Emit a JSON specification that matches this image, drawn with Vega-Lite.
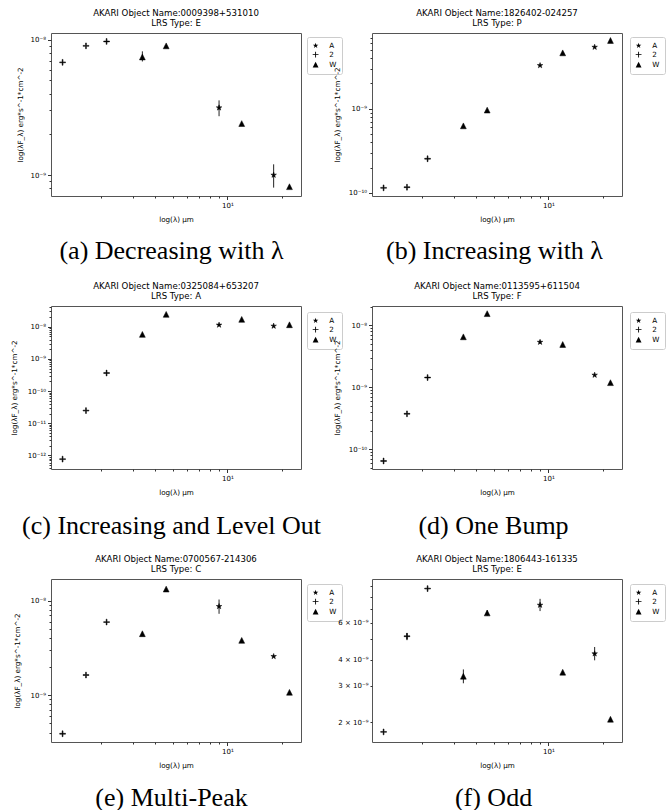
{
  "$schema": "https://vega.github.io/schema/vega-lite/v6.json",
  "padding": {"left": 10, "top": 8, "right": 0, "bottom": 0},
  "background": "white",
  "columns": 2,
  "bounds": "flush",
  "spacing": {"row": 110, "column": 71},
  "resolve": {"scale": {"shape": "independent"}, "legend": {"shape": "independent"}},
  "data": {"values": [
    {"p": "a", "inst": "2MASS", "lam": 1.235, "f": 6.8e-9},
    {"p": "a", "inst": "2MASS", "lam": 1.662, "f": 9.0e-9},
    {"p": "a", "inst": "2MASS", "lam": 2.159, "f": 9.7e-9},
    {"p": "a", "inst": "WISE", "lam": 3.4, "f": 7.45e-9, "lo": 6.9e-9, "hi": 8.2e-9},
    {"p": "a", "inst": "WISE", "lam": 4.6, "f": 9.0e-9},
    {"p": "a", "inst": "AKARI", "lam": 9, "f": 3.14e-9, "lo": 2.72e-9, "hi": 3.56e-9},
    {"p": "a", "inst": "WISE", "lam": 12, "f": 2.4e-9},
    {"p": "a", "inst": "AKARI", "lam": 18, "f": 1.0e-9, "lo": 8.07e-10, "hi": 1.2e-9},
    {"p": "a", "inst": "WISE", "lam": 22, "f": 8.2e-10},
    {"p": "b", "inst": "2MASS", "lam": 1.235, "f": 1.15e-10},
    {"p": "b", "inst": "2MASS", "lam": 1.662, "f": 1.17e-10},
    {"p": "b", "inst": "2MASS", "lam": 2.159, "f": 2.55e-10},
    {"p": "b", "inst": "WISE", "lam": 3.4, "f": 6.27e-10},
    {"p": "b", "inst": "WISE", "lam": 4.6, "f": 9.65e-10},
    {"p": "b", "inst": "AKARI", "lam": 9, "f": 3.27e-9},
    {"p": "b", "inst": "WISE", "lam": 12, "f": 4.62e-9},
    {"p": "b", "inst": "AKARI", "lam": 18, "f": 5.4e-9},
    {"p": "b", "inst": "WISE", "lam": 22, "f": 6.48e-9},
    {"p": "c", "inst": "2MASS", "lam": 1.235, "f": 7.7e-13},
    {"p": "c", "inst": "2MASS", "lam": 1.662, "f": 2.48e-11},
    {"p": "c", "inst": "2MASS", "lam": 2.159, "f": 3.64e-10},
    {"p": "c", "inst": "WISE", "lam": 3.4, "f": 5.77e-9},
    {"p": "c", "inst": "WISE", "lam": 4.6, "f": 2.42e-8},
    {"p": "c", "inst": "AKARI", "lam": 9, "f": 1.13e-8},
    {"p": "c", "inst": "WISE", "lam": 12, "f": 1.69e-8},
    {"p": "c", "inst": "AKARI", "lam": 18, "f": 1.05e-8},
    {"p": "c", "inst": "WISE", "lam": 22, "f": 1.15e-8},
    {"p": "d", "inst": "2MASS", "lam": 1.235, "f": 6.47e-11},
    {"p": "d", "inst": "2MASS", "lam": 1.662, "f": 3.74e-10},
    {"p": "d", "inst": "2MASS", "lam": 2.159, "f": 1.44e-9},
    {"p": "d", "inst": "WISE", "lam": 3.4, "f": 6.55e-9},
    {"p": "d", "inst": "WISE", "lam": 4.6, "f": 1.55e-8},
    {"p": "d", "inst": "AKARI", "lam": 9, "f": 5.37e-9, "lo": 5.05e-9, "hi": 5.7e-9},
    {"p": "d", "inst": "WISE", "lam": 12, "f": 4.92e-9},
    {"p": "d", "inst": "AKARI", "lam": 18, "f": 1.58e-9},
    {"p": "d", "inst": "WISE", "lam": 22, "f": 1.19e-9},
    {"p": "e", "inst": "2MASS", "lam": 1.235, "f": 3.89e-10},
    {"p": "e", "inst": "2MASS", "lam": 1.662, "f": 1.63e-9},
    {"p": "e", "inst": "2MASS", "lam": 2.159, "f": 5.94e-9},
    {"p": "e", "inst": "WISE", "lam": 3.4, "f": 4.47e-9},
    {"p": "e", "inst": "WISE", "lam": 4.6, "f": 1.33e-8},
    {"p": "e", "inst": "AKARI", "lam": 9, "f": 8.71e-9, "lo": 7.27e-9, "hi": 1.03e-8},
    {"p": "e", "inst": "WISE", "lam": 12, "f": 3.8e-9},
    {"p": "e", "inst": "AKARI", "lam": 18, "f": 2.57e-9},
    {"p": "e", "inst": "WISE", "lam": 22, "f": 1.07e-9},
    {"p": "f", "inst": "2MASS", "lam": 1.235, "f": 1.8e-9},
    {"p": "f", "inst": "2MASS", "lam": 1.662, "f": 5.18e-9, "lo": 4.96e-9, "hi": 5.37e-9},
    {"p": "f", "inst": "2MASS", "lam": 2.159, "f": 8.77e-9},
    {"p": "f", "inst": "WISE", "lam": 3.4, "f": 3.33e-9, "lo": 3.08e-9, "hi": 3.59e-9},
    {"p": "f", "inst": "WISE", "lam": 4.6, "f": 6.7e-9, "lo": 6.5e-9, "hi": 6.9e-9},
    {"p": "f", "inst": "AKARI", "lam": 9, "f": 7.31e-9, "lo": 6.84e-9, "hi": 7.83e-9},
    {"p": "f", "inst": "WISE", "lam": 12, "f": 3.48e-9},
    {"p": "f", "inst": "AKARI", "lam": 18, "f": 4.27e-9, "lo": 3.97e-9, "hi": 4.6e-9},
    {"p": "f", "inst": "WISE", "lam": 22, "f": 2.07e-9}
  ]},
  "concat": [
    {
      "title": {"text": ["AKARI Object Name:0009398+531010", "LRS Type: E"]},
      "width": 250, "height": 163,
      "transform": [{"filter": "datum.p == 'a'"}],
      "resolve": {"axis": {"x": "independent", "y": "independent"}},
      "layer": [
        {"mark": {"type": "point", "opacity": 0},
         "encoding": {
           "x": {"field": "lam", "type": "quantitative", "scale": {"type": "log", "domain": [1.066, 25.47], "nice": false},
                 "axis": {"orient": "bottom", "values": [2, 3, 4, 5, 6, 7, 8, 9, 20], "labels": false, "title": null, "tickSize": 2}},
           "y": {"field": "f", "type": "quantitative", "scale": {"type": "log", "domain": [7.0e-10, 1.12e-8], "nice": false},
                 "axis": {"orient": "left", "values": [8e-10, 9e-10, 2e-9, 3e-9, 4e-9, 5e-9, 6e-9, 7e-9, 8e-9, 9e-9], "labels": false, "title": null, "tickSize": 2}}}},
        {"mark": {"type": "point", "opacity": 0},
         "encoding": {
           "x": {"field": "lam", "type": "quantitative", "scale": {"type": "log", "domain": [1.066, 25.47], "nice": false},
                 "axis": {"orient": "bottom", "title": "(a) Decreasing with λ", "labels": false, "ticks": false, "minExtent": 0, "maxExtent": 0, "titlePadding": 41, "titleX": 120, "titleFont": "Liberation Serif", "titleFontSize": 26}},
           "y": {"field": "f", "type": "quantitative", "scale": {"type": "log", "domain": [7.0e-10, 1.12e-8], "nice": false}, "axis": null}}},
        {"transform": [{"filter": "isValid(datum.lo)"}],
         "mark": {"type": "rule", "color": "#222", "strokeWidth": 1},
         "encoding": {
           "x": {"field": "lam", "type": "quantitative", "scale": {"type": "log", "domain": [1.066, 25.47], "nice": false}, "axis": null},
           "y": {"field": "lo", "type": "quantitative", "scale": {"type": "log", "domain": [7.0e-10, 1.12e-8], "nice": false}, "axis": null},
           "y2": {"field": "hi"}}},
        {"mark": {"type": "point", "filled": true, "fill": "black", "stroke": "black", "strokeWidth": 0.5, "size": 34, "opacity": 1},
         "encoding": {
           "x": {"field": "lam", "type": "quantitative", "scale": {"type": "log", "domain": [1.066, 25.47], "nice": false},
                 "axis": {"orient": "bottom", "values": [10], "labelExpr": "'10¹'", "title": "log(λ) µm", "tickSize": 3.5, "titlePadding": 7}},
           "y": {"field": "f", "type": "quantitative", "scale": {"type": "log", "domain": [7.0e-10, 1.12e-8], "nice": false},
                 "axis": {"orient": "left", "values": [1e-9, 1e-8], "labelExpr": "'10⁻' + (abs(round(log(datum.value)/LN10)) >= 10 ? substring('⁰¹²³⁴⁵⁶⁷⁸⁹', floor(abs(round(log(datum.value)/LN10))/10), floor(abs(round(log(datum.value)/LN10))/10) + 1) : '') + substring('⁰¹²³⁴⁵⁶⁷⁸⁹', abs(round(log(datum.value)/LN10)) % 10, abs(round(log(datum.value)/LN10)) % 10 + 1)", "title": "log(λF_λ) erg*s^-1*cm^-2", "tickSize": 3.5, "titlePadding": 4, "minExtent": 23, "maxExtent": 23}},
           "shape": {"field": "inst", "type": "nominal",
                     "scale": {"domain": ["AKARI", "2MASS", "WISE"], "range": ["M0,-1L0.225,-0.309L0.951,-0.309L0.363,0.118L0.588,0.809L0,0.382L-0.588,0.809L-0.363,0.118L-0.951,-0.309L-0.225,-0.309Z", "M-1,-0.15L-0.15,-0.15L-0.15,-1L0.15,-1L0.15,-0.15L1,-0.15L1,0.15L0.15,0.15L0.15,1L-0.15,1L-0.15,0.15L-1,0.15Z", "M0,-1L1,1L-1,1Z"]},
                     "legend": {"title": null, "orient": "none", "offset": 0, "legendX": 256, "legendY": 4, "labelExpr": "slice(datum.label, 0, 1)", "encode": {"symbols": {"update": {"fill": {"value": "black"}, "stroke": {"value": "black"}, "strokeWidth": {"value": 0.5}}}}}}}}
      ]
    },
    {
      "title": {"text": ["AKARI Object Name:1826402-024257", "LRS Type: P"]},
      "width": 250, "height": 163,
      "transform": [{"filter": "datum.p == 'b'"}],
      "resolve": {"axis": {"x": "independent", "y": "independent"}},
      "layer": [
        {"mark": {"type": "point", "opacity": 0},
         "encoding": {
           "x": {"field": "lam", "type": "quantitative", "scale": {"type": "log", "domain": [1.066, 25.47], "nice": false},
                 "axis": {"orient": "bottom", "values": [2, 3, 4, 5, 6, 7, 8, 9, 20], "labels": false, "title": null, "tickSize": 2}},
           "y": {"field": "f", "type": "quantitative", "scale": {"type": "log", "domain": [9.2e-11, 7.95e-9], "nice": false},
                 "axis": {"orient": "left", "values": [2e-10, 3e-10, 4e-10, 5e-10, 6e-10, 7e-10, 8e-10, 9e-10, 2e-9, 3e-9, 4e-9, 5e-9, 6e-9, 7e-9], "labels": false, "title": null, "tickSize": 2}}}},
        {"mark": {"type": "point", "opacity": 0},
         "encoding": {
           "x": {"field": "lam", "type": "quantitative", "scale": {"type": "log", "domain": [1.066, 25.47], "nice": false},
                 "axis": {"orient": "bottom", "title": "(b) Increasing with λ", "labels": false, "ticks": false, "minExtent": 0, "maxExtent": 0, "titlePadding": 41, "titleX": 122, "titleFont": "Liberation Serif", "titleFontSize": 26}},
           "y": {"field": "f", "type": "quantitative", "scale": {"type": "log", "domain": [9.2e-11, 7.95e-9], "nice": false}, "axis": null}}},
        {"mark": {"type": "point", "filled": true, "fill": "black", "stroke": "black", "strokeWidth": 0.5, "size": 34, "opacity": 1},
         "encoding": {
           "x": {"field": "lam", "type": "quantitative", "scale": {"type": "log", "domain": [1.066, 25.47], "nice": false},
                 "axis": {"orient": "bottom", "values": [10], "labelExpr": "'10¹'", "title": "log(λ) µm", "tickSize": 3.5, "titlePadding": 7}},
           "y": {"field": "f", "type": "quantitative", "scale": {"type": "log", "domain": [9.2e-11, 7.95e-9], "nice": false},
                 "axis": {"orient": "left", "values": [1e-10, 1e-9], "labelExpr": "'10⁻' + (abs(round(log(datum.value)/LN10)) >= 10 ? substring('⁰¹²³⁴⁵⁶⁷⁸⁹', floor(abs(round(log(datum.value)/LN10))/10), floor(abs(round(log(datum.value)/LN10))/10) + 1) : '') + substring('⁰¹²³⁴⁵⁶⁷⁸⁹', abs(round(log(datum.value)/LN10)) % 10, abs(round(log(datum.value)/LN10)) % 10 + 1)", "title": "log(λF_λ) erg*s^-1*cm^-2", "tickSize": 3.5, "titlePadding": 4, "minExtent": 26.5, "maxExtent": 26.5}},
           "shape": {"field": "inst", "type": "nominal",
                     "scale": {"domain": ["AKARI", "2MASS", "WISE"], "range": ["M0,-1L0.225,-0.309L0.951,-0.309L0.363,0.118L0.588,0.809L0,0.382L-0.588,0.809L-0.363,0.118L-0.951,-0.309L-0.225,-0.309Z", "M-1,-0.15L-0.15,-0.15L-0.15,-1L0.15,-1L0.15,-0.15L1,-0.15L1,0.15L0.15,0.15L0.15,1L-0.15,1L-0.15,0.15L-1,0.15Z", "M0,-1L1,1L-1,1Z"]},
                     "legend": {"title": null, "orient": "none", "offset": 0, "legendX": 258, "legendY": 4, "labelExpr": "slice(datum.label, 0, 1)", "encode": {"symbols": {"update": {"fill": {"value": "black"}, "stroke": {"value": "black"}, "strokeWidth": {"value": 0.5}}}}}}}}
      ]
    },
    {
      "title": {"text": ["AKARI Object Name:0325084+653207", "LRS Type: A"]},
      "width": 250, "height": 163,
      "transform": [{"filter": "datum.p == 'c'"}],
      "resolve": {"axis": {"x": "independent", "y": "independent"}},
      "layer": [
        {"mark": {"type": "point", "opacity": 0},
         "encoding": {
           "x": {"field": "lam", "type": "quantitative", "scale": {"type": "log", "domain": [1.066, 25.47], "nice": false},
                 "axis": {"orient": "bottom", "values": [2, 3, 4, 5, 6, 7, 8, 9, 20], "labels": false, "title": null, "tickSize": 2}},
           "y": {"field": "f", "type": "quantitative", "scale": {"type": "log", "domain": [3.8e-13, 4.4e-8], "nice": false},
                 "axis": {"orient": "left", "values": [4e-13, 5e-13, 6e-13, 7e-13, 8e-13, 9e-13, 2e-12, 3e-12, 4e-12, 5e-12, 6e-12, 7e-12, 8e-12, 9e-12, 2e-11, 3e-11, 4e-11, 5e-11, 6e-11, 7e-11, 8e-11, 9e-11, 2e-10, 3e-10, 4e-10, 5e-10, 6e-10, 7e-10, 8e-10, 9e-10, 2e-9, 3e-9, 4e-9, 5e-9, 6e-9, 7e-9, 8e-9, 9e-9, 2e-8, 3e-8, 4e-8], "labels": false, "title": null, "tickSize": 2}}}},
        {"mark": {"type": "point", "opacity": 0},
         "encoding": {
           "x": {"field": "lam", "type": "quantitative", "scale": {"type": "log", "domain": [1.066, 25.47], "nice": false},
                 "axis": {"orient": "bottom", "title": "(c) Increasing and Level Out", "labels": false, "ticks": false, "minExtent": 0, "maxExtent": 0, "titlePadding": 43, "titleX": 120, "titleFont": "Liberation Serif", "titleFontSize": 26}},
           "y": {"field": "f", "type": "quantitative", "scale": {"type": "log", "domain": [3.8e-13, 4.4e-8], "nice": false}, "axis": null}}},
        {"mark": {"type": "point", "filled": true, "fill": "black", "stroke": "black", "strokeWidth": 0.5, "size": 34, "opacity": 1},
         "encoding": {
           "x": {"field": "lam", "type": "quantitative", "scale": {"type": "log", "domain": [1.066, 25.47], "nice": false},
                 "axis": {"orient": "bottom", "values": [10], "labelExpr": "'10¹'", "title": "log(λ) µm", "tickSize": 3.5, "titlePadding": 7}},
           "y": {"field": "f", "type": "quantitative", "scale": {"type": "log", "domain": [3.8e-13, 4.4e-8], "nice": false},
                 "axis": {"orient": "left", "values": [1e-12, 1e-11, 1e-10, 1e-9, 1e-8], "labelExpr": "'10⁻' + (abs(round(log(datum.value)/LN10)) >= 10 ? substring('⁰¹²³⁴⁵⁶⁷⁸⁹', floor(abs(round(log(datum.value)/LN10))/10), floor(abs(round(log(datum.value)/LN10))/10) + 1) : '') + substring('⁰¹²³⁴⁵⁶⁷⁸⁹', abs(round(log(datum.value)/LN10)) % 10, abs(round(log(datum.value)/LN10)) % 10 + 1)", "title": "log(λF_λ) erg*s^-1*cm^-2", "tickSize": 3.5, "titlePadding": 4, "minExtent": 28.5, "maxExtent": 28.5}},
           "shape": {"field": "inst", "type": "nominal",
                     "scale": {"domain": ["AKARI", "2MASS", "WISE"], "range": ["M0,-1L0.225,-0.309L0.951,-0.309L0.363,0.118L0.588,0.809L0,0.382L-0.588,0.809L-0.363,0.118L-0.951,-0.309L-0.225,-0.309Z", "M-1,-0.15L-0.15,-0.15L-0.15,-1L0.15,-1L0.15,-0.15L1,-0.15L1,0.15L0.15,0.15L0.15,1L-0.15,1L-0.15,0.15L-1,0.15Z", "M0,-1L1,1L-1,1Z"]},
                     "legend": {"title": null, "orient": "none", "offset": 0, "legendX": 256, "legendY": 6, "labelExpr": "slice(datum.label, 0, 1)", "encode": {"symbols": {"update": {"fill": {"value": "black"}, "stroke": {"value": "black"}, "strokeWidth": {"value": 0.5}}}}}}}}
      ]
    },
    {
      "title": {"text": ["AKARI Object Name:0113595+611504", "LRS Type: F"]},
      "width": 250, "height": 163,
      "transform": [{"filter": "datum.p == 'd'"}],
      "resolve": {"axis": {"x": "independent", "y": "independent"}},
      "layer": [
        {"mark": {"type": "point", "opacity": 0},
         "encoding": {
           "x": {"field": "lam", "type": "quantitative", "scale": {"type": "log", "domain": [1.066, 25.47], "nice": false},
                 "axis": {"orient": "bottom", "values": [2, 3, 4, 5, 6, 7, 8, 9, 20], "labels": false, "title": null, "tickSize": 2}},
           "y": {"field": "f", "type": "quantitative", "scale": {"type": "log", "domain": [4.8e-11, 2.06e-8], "nice": false},
                 "axis": {"orient": "left", "values": [5e-11, 6e-11, 7e-11, 8e-11, 9e-11, 2e-10, 3e-10, 4e-10, 5e-10, 6e-10, 7e-10, 8e-10, 9e-10, 2e-9, 3e-9, 4e-9, 5e-9, 6e-9, 7e-9, 8e-9, 9e-9, 2e-8], "labels": false, "title": null, "tickSize": 2}}}},
        {"mark": {"type": "point", "opacity": 0},
         "encoding": {
           "x": {"field": "lam", "type": "quantitative", "scale": {"type": "log", "domain": [1.066, 25.47], "nice": false},
                 "axis": {"orient": "bottom", "title": "(d) One Bump", "labels": false, "ticks": false, "minExtent": 0, "maxExtent": 0, "titlePadding": 43, "titleX": 121, "titleFont": "Liberation Serif", "titleFontSize": 26}},
           "y": {"field": "f", "type": "quantitative", "scale": {"type": "log", "domain": [4.8e-11, 2.06e-8], "nice": false}, "axis": null}}},
        {"transform": [{"filter": "isValid(datum.lo)"}],
         "mark": {"type": "rule", "color": "#222", "strokeWidth": 1},
         "encoding": {
           "x": {"field": "lam", "type": "quantitative", "scale": {"type": "log", "domain": [1.066, 25.47], "nice": false}, "axis": null},
           "y": {"field": "lo", "type": "quantitative", "scale": {"type": "log", "domain": [4.8e-11, 2.06e-8], "nice": false}, "axis": null},
           "y2": {"field": "hi"}}},
        {"mark": {"type": "point", "filled": true, "fill": "black", "stroke": "black", "strokeWidth": 0.5, "size": 34, "opacity": 1},
         "encoding": {
           "x": {"field": "lam", "type": "quantitative", "scale": {"type": "log", "domain": [1.066, 25.47], "nice": false},
                 "axis": {"orient": "bottom", "values": [10], "labelExpr": "'10¹'", "title": "log(λ) µm", "tickSize": 3.5, "titlePadding": 7}},
           "y": {"field": "f", "type": "quantitative", "scale": {"type": "log", "domain": [4.8e-11, 2.06e-8], "nice": false},
                 "axis": {"orient": "left", "values": [1e-10, 1e-9, 1e-8], "labelExpr": "'10⁻' + (abs(round(log(datum.value)/LN10)) >= 10 ? substring('⁰¹²³⁴⁵⁶⁷⁸⁹', floor(abs(round(log(datum.value)/LN10))/10), floor(abs(round(log(datum.value)/LN10))/10) + 1) : '') + substring('⁰¹²³⁴⁵⁶⁷⁸⁹', abs(round(log(datum.value)/LN10)) % 10, abs(round(log(datum.value)/LN10)) % 10 + 1)", "title": "log(λF_λ) erg*s^-1*cm^-2", "tickSize": 3.5, "titlePadding": 4, "minExtent": 26.5, "maxExtent": 26.5}},
           "shape": {"field": "inst", "type": "nominal",
                     "scale": {"domain": ["AKARI", "2MASS", "WISE"], "range": ["M0,-1L0.225,-0.309L0.951,-0.309L0.363,0.118L0.588,0.809L0,0.382L-0.588,0.809L-0.363,0.118L-0.951,-0.309L-0.225,-0.309Z", "M-1,-0.15L-0.15,-0.15L-0.15,-1L0.15,-1L0.15,-0.15L1,-0.15L1,0.15L0.15,0.15L0.15,1L-0.15,1L-0.15,0.15L-1,0.15Z", "M0,-1L1,1L-1,1Z"]},
                     "legend": {"title": null, "orient": "none", "offset": 0, "legendX": 258, "legendY": 6, "labelExpr": "slice(datum.label, 0, 1)", "encode": {"symbols": {"update": {"fill": {"value": "black"}, "stroke": {"value": "black"}, "strokeWidth": {"value": 0.5}}}}}}}}
      ]
    },
    {
      "title": {"text": ["AKARI Object Name:0700567-214306", "LRS Type: C"]},
      "width": 250, "height": 163,
      "transform": [{"filter": "datum.p == 'e'"}],
      "resolve": {"axis": {"x": "independent", "y": "independent"}},
      "layer": [
        {"mark": {"type": "point", "opacity": 0},
         "encoding": {
           "x": {"field": "lam", "type": "quantitative", "scale": {"type": "log", "domain": [1.066, 25.47], "nice": false},
                 "axis": {"orient": "bottom", "values": [2, 3, 4, 5, 6, 7, 8, 9, 20], "labels": false, "title": null, "tickSize": 2}},
           "y": {"field": "f", "type": "quantitative", "scale": {"type": "log", "domain": [3.18e-10, 1.7e-8], "nice": false},
                 "axis": {"orient": "left", "values": [4e-10, 5e-10, 6e-10, 7e-10, 8e-10, 9e-10, 2e-9, 3e-9, 4e-9, 5e-9, 6e-9, 7e-9, 8e-9, 9e-9], "labels": false, "title": null, "tickSize": 2}}}},
        {"mark": {"type": "point", "opacity": 0},
         "encoding": {
           "x": {"field": "lam", "type": "quantitative", "scale": {"type": "log", "domain": [1.066, 25.47], "nice": false},
                 "axis": {"orient": "bottom", "title": "(e) Multi-Peak", "labels": false, "ticks": false, "minExtent": 0, "maxExtent": 0, "titlePadding": 42, "titleX": 120, "titleFont": "Liberation Serif", "titleFontSize": 26}},
           "y": {"field": "f", "type": "quantitative", "scale": {"type": "log", "domain": [3.18e-10, 1.7e-8], "nice": false}, "axis": null}}},
        {"transform": [{"filter": "isValid(datum.lo)"}],
         "mark": {"type": "rule", "color": "#222", "strokeWidth": 1},
         "encoding": {
           "x": {"field": "lam", "type": "quantitative", "scale": {"type": "log", "domain": [1.066, 25.47], "nice": false}, "axis": null},
           "y": {"field": "lo", "type": "quantitative", "scale": {"type": "log", "domain": [3.18e-10, 1.7e-8], "nice": false}, "axis": null},
           "y2": {"field": "hi"}}},
        {"mark": {"type": "point", "filled": true, "fill": "black", "stroke": "black", "strokeWidth": 0.5, "size": 34, "opacity": 1},
         "encoding": {
           "x": {"field": "lam", "type": "quantitative", "scale": {"type": "log", "domain": [1.066, 25.47], "nice": false},
                 "axis": {"orient": "bottom", "values": [10], "labelExpr": "'10¹'", "title": "log(λ) µm", "tickSize": 3.5, "titlePadding": 7}},
           "y": {"field": "f", "type": "quantitative", "scale": {"type": "log", "domain": [3.18e-10, 1.7e-8], "nice": false},
                 "axis": {"orient": "left", "values": [1e-9, 1e-8], "labelExpr": "'10⁻' + (abs(round(log(datum.value)/LN10)) >= 10 ? substring('⁰¹²³⁴⁵⁶⁷⁸⁹', floor(abs(round(log(datum.value)/LN10))/10), floor(abs(round(log(datum.value)/LN10))/10) + 1) : '') + substring('⁰¹²³⁴⁵⁶⁷⁸⁹', abs(round(log(datum.value)/LN10)) % 10, abs(round(log(datum.value)/LN10)) % 10 + 1)", "title": "log(λF_λ) erg*s^-1*cm^-2", "tickSize": 3.5, "titlePadding": 4, "minExtent": 25.7, "maxExtent": 25.7}},
           "shape": {"field": "inst", "type": "nominal",
                     "scale": {"domain": ["AKARI", "2MASS", "WISE"], "range": ["M0,-1L0.225,-0.309L0.951,-0.309L0.363,0.118L0.588,0.809L0,0.382L-0.588,0.809L-0.363,0.118L-0.951,-0.309L-0.225,-0.309Z", "M-1,-0.15L-0.15,-0.15L-0.15,-1L0.15,-1L0.15,-0.15L1,-0.15L1,0.15L0.15,0.15L0.15,1L-0.15,1L-0.15,0.15L-1,0.15Z", "M0,-1L1,1L-1,1Z"]},
                     "legend": {"title": null, "orient": "none", "offset": 0, "legendX": 256, "legendY": 5, "labelExpr": "slice(datum.label, 0, 1)", "encode": {"symbols": {"update": {"fill": {"value": "black"}, "stroke": {"value": "black"}, "strokeWidth": {"value": 0.5}}}}}}}}
      ]
    },
    {
      "title": {"text": ["AKARI Object Name:1806443-161335", "LRS Type: E"]},
      "width": 250, "height": 163,
      "transform": [{"filter": "datum.p == 'f'"}],
      "resolve": {"axis": {"x": "independent", "y": "independent"}},
      "layer": [
        {"mark": {"type": "point", "opacity": 0},
         "encoding": {
           "x": {"field": "lam", "type": "quantitative", "scale": {"type": "log", "domain": [1.066, 25.47], "nice": false},
                 "axis": {"orient": "bottom", "values": [2, 3, 4, 5, 6, 7, 8, 9, 20], "labels": false, "title": null, "tickSize": 2}},
           "y": {"field": "f", "type": "quantitative", "scale": {"type": "log", "domain": [1.61e-9, 9.75e-9], "nice": false},
                 "axis": {"orient": "left", "values": [5e-9, 7e-9, 8e-9, 9e-9], "labels": false, "title": null, "tickSize": 2}}}},
        {"mark": {"type": "point", "opacity": 0},
         "encoding": {
           "x": {"field": "lam", "type": "quantitative", "scale": {"type": "log", "domain": [1.066, 25.47], "nice": false},
                 "axis": {"orient": "bottom", "title": "(f) Odd", "labels": false, "ticks": false, "minExtent": 0, "maxExtent": 0, "titlePadding": 42, "titleX": 121, "titleFont": "Liberation Serif", "titleFontSize": 26}},
           "y": {"field": "f", "type": "quantitative", "scale": {"type": "log", "domain": [1.61e-9, 9.75e-9], "nice": false}, "axis": null}}},
        {"transform": [{"filter": "isValid(datum.lo)"}],
         "mark": {"type": "rule", "color": "#222", "strokeWidth": 1},
         "encoding": {
           "x": {"field": "lam", "type": "quantitative", "scale": {"type": "log", "domain": [1.066, 25.47], "nice": false}, "axis": null},
           "y": {"field": "lo", "type": "quantitative", "scale": {"type": "log", "domain": [1.61e-9, 9.75e-9], "nice": false}, "axis": null},
           "y2": {"field": "hi"}}},
        {"mark": {"type": "point", "filled": true, "fill": "black", "stroke": "black", "strokeWidth": 0.5, "size": 34, "opacity": 1},
         "encoding": {
           "x": {"field": "lam", "type": "quantitative", "scale": {"type": "log", "domain": [1.066, 25.47], "nice": false},
                 "axis": {"orient": "bottom", "values": [10], "labelExpr": "'10¹'", "title": "log(λ) µm", "tickSize": 3.5, "titlePadding": 7}},
           "y": {"field": "f", "type": "quantitative", "scale": {"type": "log", "domain": [1.61e-9, 9.75e-9], "nice": false},
                 "axis": {"orient": "left", "values": [2e-9, 3e-9, 4e-9, 6e-9], "labelExpr": "format(datum.value * 1e9, 'd') + ' × 10⁻⁹'", "title": null, "tickSize": 2}},
           "shape": {"field": "inst", "type": "nominal",
                     "scale": {"domain": ["AKARI", "2MASS", "WISE"], "range": ["M0,-1L0.225,-0.309L0.951,-0.309L0.363,0.118L0.588,0.809L0,0.382L-0.588,0.809L-0.363,0.118L-0.951,-0.309L-0.225,-0.309Z", "M-1,-0.15L-0.15,-0.15L-0.15,-1L0.15,-1L0.15,-0.15L1,-0.15L1,0.15L0.15,0.15L0.15,1L-0.15,1L-0.15,0.15L-1,0.15Z", "M0,-1L1,1L-1,1Z"]},
                     "legend": {"title": null, "orient": "none", "offset": 0, "legendX": 258, "legendY": 5, "labelExpr": "slice(datum.label, 0, 1)", "encode": {"symbols": {"update": {"fill": {"value": "black"}, "stroke": {"value": "black"}, "strokeWidth": {"value": 0.5}}}}}}}}
      ]
    }
  ],
  "config": {
    "view": {"stroke": "#555", "strokeWidth": 1},
    "axis": {"grid": false, "domain": false, "labelFont": "DejaVu Sans", "labelFontSize": 7, "labelColor": "black", "titleFont": "DejaVu Sans", "titleFontSize": 7.2, "titleFontWeight": "normal", "titleColor": "black", "tickColor": "#333", "labelPadding": 2},
    "title": {"font": "DejaVu Sans", "fontSize": 8.6, "fontWeight": "normal", "color": "black", "offset": 5, "lineHeight": 10, "anchor": "middle", "frame": "group"},
    "legend": {"padding": 5, "strokeColor": "#ccc", "fillColor": "white", "cornerRadius": 2, "labelFont": "DejaVu Sans", "labelFontSize": 7.2, "labelColor": "black", "symbolSize": 34, "symbolStrokeWidth": 0.5, "symbolFillColor": "black", "symbolStrokeColor": "black", "rowPadding": 1, "labelOffset": 10}
  }
}
